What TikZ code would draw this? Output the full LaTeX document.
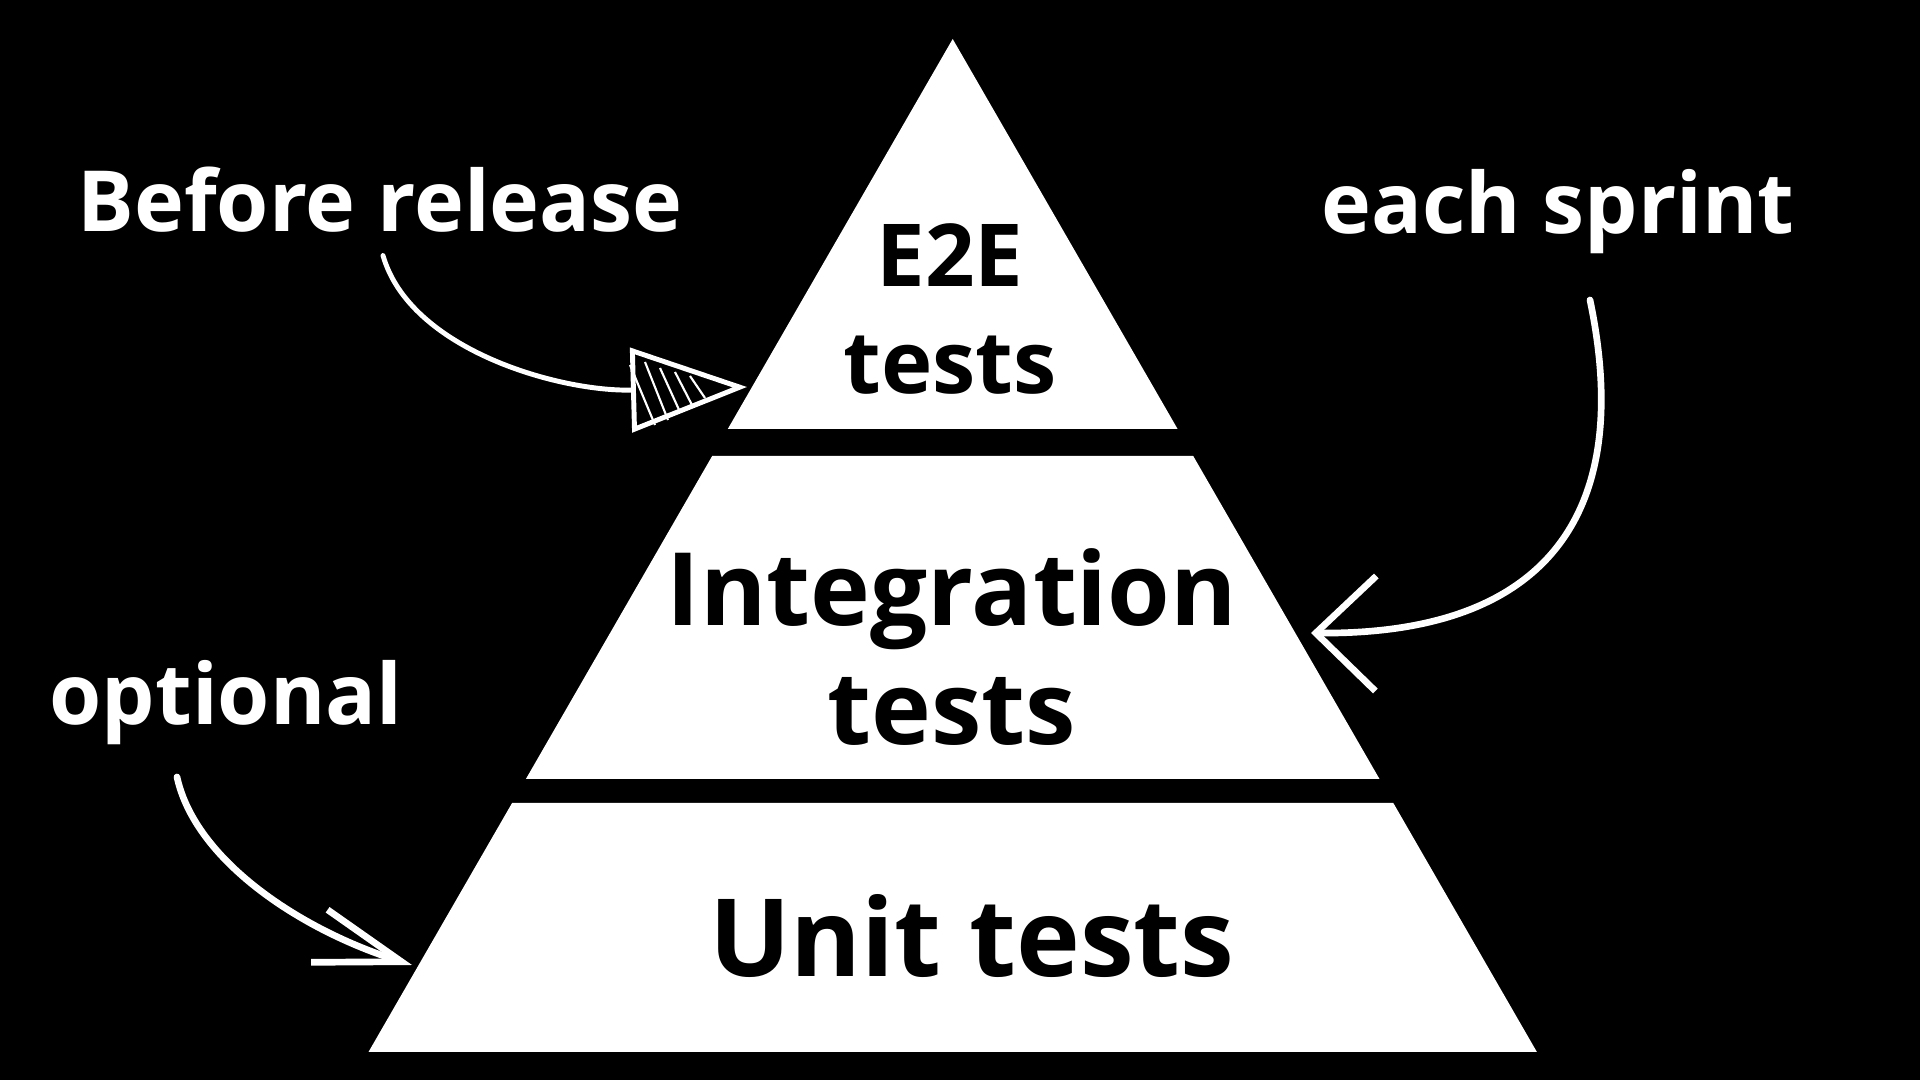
\documentclass[tikz,border=0pt]{standalone}
\usepackage{fontspec}
\setmainfont{Open Sans}
\usetikzlibrary{arrows.meta}

\begin{document}
\begin{tikzpicture}[x=0.01cm, y=-0.01cm,
  note/.style={text=white, font=\fontsize{24}{30}\selectfont\bfseries, inner sep=0pt, anchor=base},
  tier/.style={fill=white},
  tiertext/.style={text=black, align=center, inner sep=0pt},
  pen/.style={white, line width=1.4pt, line cap=round},
  chalk/.style={white, line width=1.9pt, line cap=round}]
 \fill[black] (0,0) rectangle (1920,1080);
 \useasboundingbox (0,0) rectangle (1920,1080);
 % pyramid
 \fill[tier] (952.7,39) -- (1177.6,429) -- (727.8,429) -- cycle;
 \fill[tier] (712.2,456) -- (1193.2,456) -- (1379.5,779) -- (525.9,779) -- cycle;
 \fill[tier] (512.1,803) -- (1393.3,803) -- (1536.9,1052) -- (368.5,1052) -- cycle;
 \node[tiertext, font=\fontsize{24.7}{30.2}\selectfont\bfseries] (e2e) at (950,309) {E2E\\tests};
 \node[tiertext, font=\fontsize{28.8}{33.6}\selectfont\bfseries] (int) at (952,647) {Integration\\tests};
 \node[tiertext, anchor=base, font=\fontsize{30.7}{36}\selectfont\bfseries] (unit) at (972,977) {Unit tests};
 \coordinate (e2e-in) at (747,387);
 \coordinate (int-in) at (1311,633);
 \coordinate (unit-in) at (412,965);
 % labels
 \node[note] (before) at (380,232) {Before release};
 \node[note] (sprint) at (1558,234) {each sprint};
 \node[note] (optional) at (226,725) {optional};
 % arrows
 \draw[pen, -{Triangle[open, length=1.16cm, width=0.84cm]}] ([shift={(3,22)}]before.south)
   .. controls (410,350) and (560,392) .. (e2e-in);
 \draw[white, line width=0.6pt] (630,365) -- (655,425) (645,362) -- (668,420) (660,368) -- (680,412)
   (675,372) -- (692,405) (690,376) -- (705,398);
 \draw[chalk, -{Straight Barb[length=0.6cm, width=1.15cm]}] ([shift={(32,45)}]sprint.south)
   .. controls (1632,500) and (1560,635) .. (int-in);
 \draw[chalk, -{Straight Barb[length=0.86cm, width=0.55cm]}] ([shift={(-49,31)}]optional.south)
   .. controls (195,860) and (300,930) .. (unit-in);
\end{tikzpicture}
\end{document}
